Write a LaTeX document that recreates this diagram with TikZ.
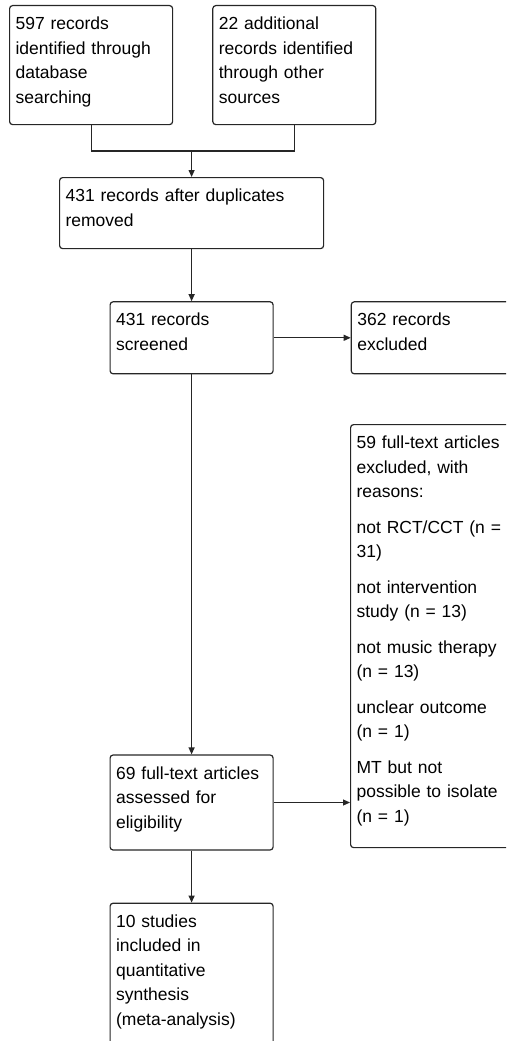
\documentclass[tikz,border=0pt]{standalone}
\usepackage{fontspec}
\setmainfont{Liberation Sans}
\usetikzlibrary{positioning,arrows.meta}
\tikzset{
	flowbox/.style={draw=black!85, line width=1.2pt, rounded corners=3pt, align=left, inner xsep=6pt, inner ysep=0pt, text height=24pt, text width=151pt, font=\fontsize{17.5}{24.5}\selectfont},
	flowline/.style={draw=black!85, line width=1.2pt},
	flowarrow/.style={draw=black!85, line width=1.2pt, -{Triangle[length=7pt, width=6pt]}},
}
\begin{document}
\begin{tikzpicture}[x=1pt, y=-1pt]
	\useasboundingbox (0, 0) rectangle (506, 1041);
	\clip (0, 0) rectangle (506, 1041);
	% identification
	\node[flowbox, text depth=95pt, anchor=north west] (db) at (9, 5) {597 records\\identified through\\database\\searching};
	\node[flowbox, text depth=95pt, right=39pt of db] (other) {22 additional\\records identified\\through other\\sources};
	% duplicates
	\node[flowbox, text width=252pt, text depth=47pt, anchor=north west] (dup) at (59, 177) {431 records after duplicates\\removed};
	% screening
	\node[flowbox, text depth=48pt, below=52pt of dup] (screen) {431 records\\screened};
	\node[flowbox, text depth=48pt, right=77pt of screen] (excl) {362 records\\excluded};
	% eligibility
	\node[flowbox, text depth=71pt, below=380pt of screen] (full) {69 full-text articles\\assessed for\\eligibility};
	\node[flowbox, text depth=399pt, anchor=north west] (reasons) at (350, 424) {59 full-text articles\\excluded, with\\reasons:\\[11pt]
		not RCT/CCT (n =\\31)\\[11pt]
		not intervention\\study (n = 13)\\[11pt]
		not music therapy\\(n = 13)\\[11pt]
		unclear outcome\\(n = 1)\\[11pt]
		MT but not\\possible to isolate\\(n = 1)};
	% included
	\node[flowbox, text depth=122pt, below=52pt of full] (incl) {10 studies\\included in\\quantitative\\synthesis\\(meta-analysis)};
	% connectors
	\path (dup.north) ++(0, -26) coordinate (join);
	\draw[flowline] (db.south) |- (join) -| (other.south);
	\draw[flowarrow] (join) -- (dup.north);
	\draw[flowarrow] (dup) -- (screen);
	\draw[flowarrow] (screen) -- (excl);
	\draw[flowarrow] (screen) -- (full);
	\draw[flowarrow] (full.east) -- (full.east -| reasons.west);
	\draw[flowarrow] (full) -- (incl);
\end{tikzpicture}
\end{document}
